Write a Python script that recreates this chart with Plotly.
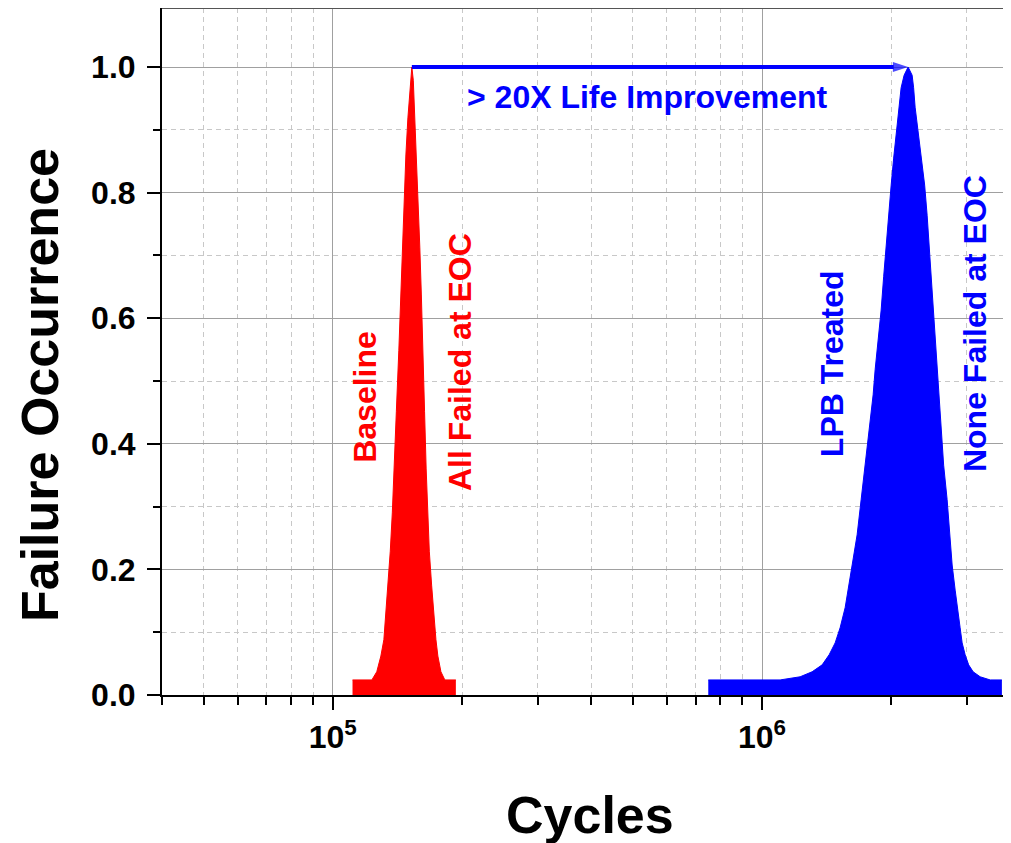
import math
import plotly.graph_objects as go

# ---------------- data ----------------
baseline_cycles = [1.1115e5, 1.233e5, 1.266e5, 1.294e5, 1.315e5, 1.329e5, 1.344e5, 1.361e5,
                   1.376e5, 1.387e5, 1.406e5, 1.425e5, 1.440e5, 1.452e5, 1.464e5, 1.480e5,
                   1.496e5, 1.516e5, 1.528e5, 1.540e5, 1.553e5, 1.565e5, 1.578e5, 1.595e5,
                   1.608e5, 1.624e5, 1.636e5, 1.650e5, 1.663e5, 1.678e5, 1.699e5, 1.720e5,
                   1.739e5, 1.757e5, 1.786e5, 1.824e5, 1.935e5]
baseline_occurrence = [0.024, 0.024, 0.037, 0.062, 0.088, 0.127, 0.175, 0.229,
                       0.290, 0.360, 0.451, 0.549, 0.637, 0.712, 0.785, 0.860,
                       0.919, 0.971, 1.000, 0.979, 0.919, 0.860, 0.785, 0.712,
                       0.637, 0.549, 0.451, 0.360, 0.290, 0.229, 0.175, 0.127,
                       0.088, 0.062, 0.037, 0.024, 0.024]

lpb_cycles = [7.494e5, 1.102e6, 1.2266e6, 1.3082e6, 1.3804e6, 1.4332e6, 1.4802e6, 1.5202e6,
              1.5617e6, 1.5870e6, 1.6214e6, 1.6653e6, 1.7016e6, 1.7386e6, 1.7811e6, 1.8147e6,
              1.8344e6, 1.8642e6, 1.8945e6, 1.9200e6, 1.9459e6, 1.9724e6, 1.9990e6, 2.0259e6,
              2.0535e6, 2.0812e6, 2.1086e6, 2.1429e6, 2.1893e6,
              2.2371e6, 2.2549e6, 2.2731e6, 2.3101e6, 2.3541e6, 2.3924e6, 2.4246e6, 2.4509e6,
              2.4771e6, 2.5038e6, 2.5311e6, 2.5582e6, 2.5858e6, 2.6134e6, 2.6491e6, 2.6990e6,
              2.7358e6, 2.7727e6, 2.8178e6, 2.8478e6, 2.8941e6, 2.9255e6, 2.9730e6, 3.0296e6,
              3.1032e6, 3.2226e6, 3.4004e6, 3.6205e6]
lpb_occurrence = [0.024, 0.024, 0.029, 0.037, 0.048, 0.064, 0.083, 0.107,
                  0.139, 0.167, 0.207, 0.255, 0.311, 0.366, 0.422, 0.478,
                  0.518, 0.561, 0.613, 0.666, 0.717, 0.764, 0.812, 0.855,
                  0.896, 0.936, 0.967, 0.987, 1.000,
                  0.987, 0.967, 0.936, 0.896, 0.855, 0.812, 0.764, 0.717,
                  0.666, 0.613, 0.561, 0.518, 0.478, 0.422, 0.366, 0.311,
                  0.255, 0.207, 0.167, 0.139, 0.107, 0.083, 0.064, 0.048,
                  0.037, 0.029, 0.024, 0.024]

x_major_ticks = [1e5, 1e6]
x_major_labels = ["10<sup>5</sup>", "10<sup>6</sup>"]
x_minor_ticks = [4e4, 5e4, 6e4, 7e4, 8e4, 9e4,
                 2e5, 3e5, 4e5, 5e5, 6e5, 7e5, 8e5, 9e5,
                 2e6, 3e6]

RED = "#FF0000"
BLUE = "#0000FF"
FONT = "Liberation Sans, Arial, sans-serif"

fig = go.Figure()
fig.add_trace(go.Scatter(x=baseline_cycles, y=baseline_occurrence, mode="lines",
                         fill="tozeroy", fillcolor=RED, line=dict(color=RED, width=1),
                         showlegend=False, hoverinfo="skip"))
fig.add_trace(go.Scatter(x=lpb_cycles, y=lpb_occurrence, mode="lines",
                         fill="tozeroy", fillcolor=BLUE, line=dict(color=BLUE, width=1),
                         showlegend=False, hoverinfo="skip"))

# arrow from baseline peak to LPB peak (derived from the data)
i_red = baseline_occurrence.index(max(baseline_occurrence))
i_blue = lpb_occurrence.index(max(lpb_occurrence))
peak_y = max(baseline_occurrence)
fig.add_trace(go.Scatter(x=[baseline_cycles[i_red], lpb_cycles[i_blue]], y=[peak_y, peak_y],
                         mode="lines+markers", line=dict(color=BLUE, width=4),
                         marker=dict(symbol=["line-ns", "arrow"], size=[0, 16],
                                     angleref="previous", color=BLUE,
                                     line=dict(width=0, color=BLUE)),
                         showlegend=False, hoverinfo="skip"))

lg = math.log10
annots = [
    dict(text="Baseline", x=lg(1.187e5), y=0.4745, color=RED),
    dict(text="All Failed at EOC", x=lg(1.977e5), y=0.530, color=RED),
    dict(text="LPB Treated", x=lg(1.456e6), y=0.527, color=BLUE),
    dict(text="None Failed at EOC", x=lg(3.137e6), y=0.591, color=BLUE),
]
for a in annots:
    fig.add_annotation(text=a["text"], x=a["x"], y=a["y"], xref="x", yref="y",
                       xanchor="center", yanchor="middle",
                       showarrow=False, textangle=-90,
                       font=dict(family=FONT, size=32, color=a["color"], weight="bold"))

fig.add_annotation(text="> 20X Life Improvement", x=lg(5.40e5), y=0.952, xref="x", yref="y",
                   xanchor="center", yanchor="middle", showarrow=False,
                   font=dict(family=FONT, size=32, color=BLUE, weight="bold"))

# axis titles
fig.add_annotation(text="Failure Occurrence", x=-0.1437, y=0.4512, xref="paper", yref="paper",
                   xanchor="center", yanchor="middle",
                   showarrow=False, textangle=-90,
                   font=dict(family=FONT, size=52, color="black", weight="bold"))
fig.add_annotation(text="Cycles", x=0.504, y=-0.1747, xref="paper", yref="paper",
                   xanchor="center", yanchor="middle", showarrow=False,
                   font=dict(family=FONT, size=52, color="black", weight="bold"))

fig.update_xaxes(type="log", range=[lg(4e4), 6.58],
                 tickmode="array", tickvals=x_major_ticks, ticktext=x_major_labels,
                 ticks="outside", ticklen=13, tickwidth=2, tickcolor="black",
                 tickfont=dict(family=FONT, size=32, color="black", weight="bold"),
                 showgrid=True, gridcolor="#a0a0a0", gridwidth=1,
                 showline=True, linecolor="black", linewidth=2,
                 zeroline=False,
                 minor=dict(tickmode="array", tickvals=x_minor_ticks, ticks="outside",
                            ticklen=8, tickwidth=2, tickcolor="black",
                            showgrid=True, gridcolor="#c8c8c8", gridwidth=1,
                            griddash="5px,4px"))
fig.update_yaxes(range=[0, 1.094], tickmode="linear", tick0=0, dtick=0.2,
                 tickformat=".1f",
                 ticks="outside", ticklen=13, tickwidth=2, tickcolor="black",
                 ticklabelstandoff=5,
                 tickfont=dict(family=FONT, size=32, color="black", weight="bold"),
                 showgrid=True, gridcolor="#a0a0a0", gridwidth=1,
                 showline=True, linecolor="black", linewidth=2,
                 zeroline=False,
                 minor=dict(dtick=0.1, tick0=0, ticks="outside", ticklen=7, tickwidth=2,
                            tickcolor="black", showgrid=True, gridcolor="#c8c8c8",
                            gridwidth=1, griddash="5px,4px"))

# top frame line
fig.add_shape(type="line", xref="paper", yref="paper", x0=0, x1=1, y0=1, y1=1,
              line=dict(color="#555555", width=2))

# page body has an 8px margin: size the figure so the plot lands where the reference has it
fig.update_layout(width=1003, height=835, autosize=False,
                  margin=dict(l=154, r=0, t=0, b=148),
                  paper_bgcolor="white", plot_bgcolor="white",
                  showlegend=False)

fig.write_html("out.html")
